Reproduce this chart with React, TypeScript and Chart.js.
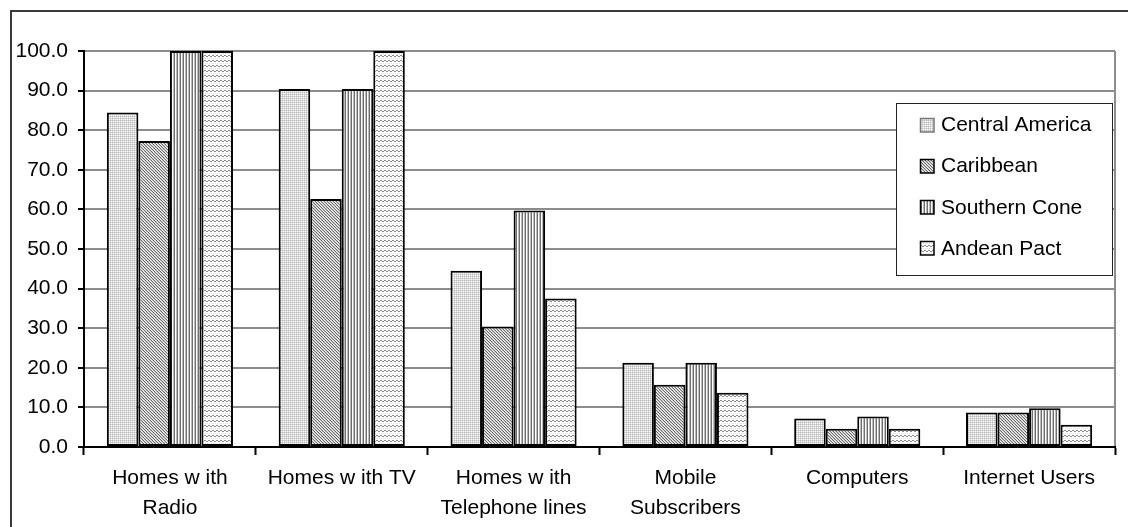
import React, { useEffect, useRef } from "react";
import { Chart, registerables } from "chart.js";

Chart.register(...registerables);

const categories: (string | string[])[] = [
  ["Homes w ith", "Radio"],
  "Homes w ith TV",
  ["Homes w ith", "Telephone lines"],
  ["Mobile", "Subscribers"],
  "Computers",
  "Internet Users",
];
const seriesNames = ["Central America", "Caribbean", "Southern Cone", "Andean Pact"];
const centralAmerica = [84.5, 90.4, 44.5, 21.3, 7.2, 8.7];
const caribbean = [77.3, 62.6, 30.4, 15.7, 4.6, 8.7];
const southernCone = [100, 90.4, 59.7, 21.3, 7.7, 9.8];
const andeanPact = [100, 100, 37.5, 13.7, 4.6, 5.6];
const yMin = 0;
const yMax = 100;
const yStep = 10;

const FONT = '"Liberation Sans", Arial, Helvetica, sans-serif';
const FONT_SIZE = 21;

function makePattern(
  w: number,
  h: number,
  bg: string,
  draw: (set: (x: number, y: number, c: string) => void) => void
): CanvasPattern | string {
  const c = document.createElement("canvas");
  c.width = w;
  c.height = h;
  const ctx = c.getContext("2d");
  if (!ctx) return bg;
  ctx.fillStyle = bg;
  ctx.fillRect(0, 0, w, h);
  draw((x, y, col) => {
    ctx.fillStyle = col;
    ctx.fillRect(x, y, 1, 1);
  });
  return ctx.createPattern(c, "repeat") || bg;
}

function buildPatterns() {
  // Central America: light dotted grid
  const ca = makePattern(4, 4, "#ffffff", (set) => {
    for (let y = 0; y < 4; y++)
      for (let x = 0; x < 4; x++) {
        if (x % 2 === 0 || y % 2 === 0) set(x, y, (x + y) % 2 === 0 ? "#bdbdbd" : "#d6d6d6");
      }
  });
  // Caribbean: dense diagonal hatch
  const cb = makePattern(3, 3, "#c4c4c4", (set) => {
    for (let i = 0; i < 3; i++) {
      set(i, i, "#6a6a6a");
      set((i + 1) % 3, i, "#f4f4f4");
    }
  });
  // Southern Cone: vertical stripes
  const sc = makePattern(3, 1, "#ffffff", (set) => {
    set(0, 0, "#6e6e6e");
    set(2, 0, "#bcbcbc");
  });
  // Andean Pact: horizontal wavy lines
  const ap = makePattern(4, 5, "#ffffff", (set) => {
    set(0, 0, "#8a8a8a");
    set(1, 0, "#8a8a8a");
    set(2, 1, "#8a8a8a");
    set(3, 1, "#8a8a8a");
    set(1, 3, "#d8d8d8");
    set(3, 3, "#e4e4e4");
  });
  return [ca, cb, sc, ap];
}

export default function App() {
  const canvasRef = useRef<HTMLCanvasElement | null>(null);

  useEffect(() => {
    const canvas = canvasRef.current;
    if (!canvas) return;
    const patterns = buildPatterns();
    const seriesValues = [centralAmerica, caribbean, southernCone, andeanPact];

    const framePlugin = {
      id: "frame",
      beforeDraw(chart: any) {
        const ctx = chart.ctx as CanvasRenderingContext2D;
        ctx.save();
        ctx.fillStyle = "#ffffff";
        ctx.fillRect(0, 0, chart.width, chart.height);
        ctx.strokeStyle = "#3a3a3a";
        ctx.lineWidth = 2;
        ctx.beginPath();
        ctx.moveTo(11, chart.height);
        ctx.lineTo(11, 11);
        ctx.lineTo(chart.width, 11);
        ctx.stroke();
        ctx.restore();
      },
      beforeDatasetsDraw(chart: any) {
        const ctx = chart.ctx as CanvasRenderingContext2D;
        const a = chart.chartArea;
        ctx.save();
        ctx.strokeStyle = "#8c8c8c";
        ctx.lineWidth = 2;
        ctx.beginPath();
        ctx.moveTo(a.right, a.top);
        ctx.lineTo(a.right, a.bottom);
        ctx.stroke();
        ctx.restore();
      },
    };

    const legendPlugin = {
      id: "boxLegend",
      afterDraw(chart: any) {
        const ctx = chart.ctx as CanvasRenderingContext2D;
        const bx = 896;
        const by = 103;
        const bw = 216;
        const bh = 172;
        ctx.save();
        ctx.fillStyle = "#ffffff";
        ctx.fillRect(bx, by, bw, bh);
        ctx.strokeStyle = "#222";
        ctx.lineWidth = 1;
        ctx.strokeRect(bx + 0.5, by + 0.5, bw, bh);
        const rowH = 41.2;
        const firstCy = 124.5;
        seriesNames.forEach((name, i) => {
          const cy = firstCy + i * rowH;
          ctx.fillStyle = patterns[i] as any;
          ctx.fillRect(920, Math.round(cy - 7), 14, 14);
          ctx.strokeStyle = i === 0 ? "#777" : "#000";
          ctx.lineWidth = 1.5;
          ctx.strokeRect(920.5, Math.round(cy - 7) + 0.5, 13.5, 13.5);
          ctx.fillStyle = "#000";
          ctx.font = `${FONT_SIZE}px ${FONT}`;
          ctx.textBaseline = "middle";
          ctx.textAlign = "left";
          ctx.fillText(name, 941, cy + 1);
        });
        ctx.restore();
      },
    };

    const chart = new Chart(canvas, {
      type: "bar",
      data: {
        labels: categories,
        datasets: seriesNames.map((name, i) => ({
          label: name,
          data: seriesValues[i],
          backgroundColor: patterns[i] as any,
          borderColor: "#000",
          borderWidth: 2,
          borderSkipped: false,
          categoryPercentage: 0.734,
          barPercentage: 1.0,
        })),
      },
      options: {
        animation: false,
        responsive: false,
        maintainAspectRatio: false,
        layout: { padding: { left: 0, right: 13, top: 51, bottom: 0 } },
        plugins: {
          legend: { display: false },
          tooltip: { enabled: false },
        },
        scales: {
          x: {
            grid: {
              offset: true,
              drawOnChartArea: false,
              drawTicks: true,
              tickLength: 8,
              tickColor: "#000",
              tickWidth: 2,
            },
            border: { color: "#000", width: 2, z: 1 } as any,
            ticks: {
              color: "#000",
              font: { family: FONT, size: FONT_SIZE, lineHeight: 1.43 },
              padding: 8,
              maxRotation: 0,
              minRotation: 0,
              autoSkip: false,
            },
            afterFit(scale: any) {
              scale.height = 80;
            },
          },
          y: {
            min: yMin,
            max: yMax,
            ticks: {
              stepSize: yStep,
              color: "#000",
              font: { family: FONT, size: FONT_SIZE },
              padding: 10,
              callback: (v: any) => Number(v).toFixed(1),
            },
            grid: {
              color: "#8c8c8c",
              lineWidth: 2,
              tickLength: 6,
              tickColor: "#000",
              tickWidth: 2,
            },
            border: { color: "#000", width: 2, z: 1 } as any,
            afterFit(scale: any) {
              scale.width = 84;
            },
          },
        },
      },
      plugins: [framePlugin, legendPlugin],
    });

    return () => {
      chart.destroy();
    };
  }, []);

  return (
    <div style={{ position: "absolute", left: 0, top: 0, width: 1128, height: 527, background: "#fff" }}>
      <canvas ref={canvasRef} width={1128} height={527} style={{ display: "block", width: 1128, height: 527 }} />
    </div>
  );
}
